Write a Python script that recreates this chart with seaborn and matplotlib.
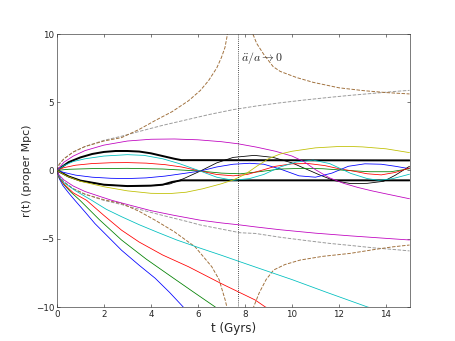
import numpy as np
import pandas as pd
import seaborn as sns
import matplotlib
matplotlib.use('Agg')
import matplotlib.pyplot as plt

# --- bound orbits (start at r=0, oscillate) ---
m_up_t = [0, 0.3, 0.7, 1.2, 2, 3, 4, 5, 6, 7, 7.7, 8.5, 9.3, 10, 10.5, 11, 11.6, 12.2, 12.8, 13.4, 14, 15]
m_up_r = [0, 0.6, 1.05, 1.45, 1.85, 2.15, 2.28, 2.3, 2.24, 2.1, 1.95, 1.7, 1.4, 1.05, 0.65, 0.05, -0.55, -0.95, -1.25, -1.5, -1.72, -2.08]

y_t = [0, 0.4, 1, 2, 3, 4, 4.8, 5.5, 6.2, 7, 7.5, 8, 8.5, 9, 9.5, 10, 11, 12, 12.5, 13, 14, 15]
y_r = [0, -0.4, -0.8, -1.2, -1.5, -1.68, -1.7, -1.6, -1.35, -0.98, -0.7, -0.3, 0.3, 0.85, 1.2, 1.4, 1.65, 1.75, 1.75, 1.72, 1.58, 1.3]

c_up_t = [0, 0.3, 0.7, 1.2, 2, 3, 3.7, 4.5, 5.2, 6.1, 6.8, 7.5, 8.2, 8.8, 9.5, 10.2, 10.9, 11.6, 12.5, 13.2, 13.7, 14.3, 15]
c_up_r = [0, 0.35, 0.65, 0.85, 1.05, 1.15, 1.1, 0.85, 0.5, -0.05, -0.5, -0.73, -0.6, -0.3, 0.25, 0.62, 0.75, 0.5, -0.22, -0.6, -0.73, -0.6, -0.28]

r_up_t = [0, 0.3, 0.8, 1.5, 2.3, 3, 3.8, 4.6, 5.3, 6.1, 6.8, 7.5, 8.1, 8.6, 9.3, 10, 10.7, 11.4, 12, 12.6, 13.2, 13.8, 14.4, 15]
r_up_r = [0, 0.2, 0.38, 0.5, 0.56, 0.57, 0.53, 0.42, 0.25, -0.05, -0.3, -0.4, -0.3, -0.05, 0.3, 0.48, 0.5, 0.35, 0.12, -0.05, -0.25, -0.33, -0.15, 0.18]

g_up_t = [0, 0.5, 1.5, 3, 4.5, 6.1, 7, 7.8, 8.6, 9.5, 10.5, 11.3, 12.3, 13.3, 14.2, 15]
g_up_r = [0, 0.08, 0.13, 0.15, 0.1, -0.05, -0.2, -0.25, -0.1, 0.1, 0.15, 0.12, 0.0, -0.1, -0.1, 0.12]

b_up_t = [0, 0.3, 0.8, 1.5, 2.3, 3, 3.8, 4.6, 5.3, 6.1, 6.8, 7.5, 8.2, 8.8, 9.5, 10.3, 11, 11.7, 12.4, 13.1, 13.8, 14.4, 15]
b_up_r = [0, -0.15, -0.35, -0.5, -0.58, -0.6, -0.55, -0.42, -0.25, -0.05, 0.25, 0.45, 0.52, 0.45, 0.1, -0.4, -0.5, -0.2, 0.3, 0.48, 0.45, 0.3, 0.12]

k_thin_t = [0, 0.5, 1, 2, 3, 4, 4.8, 5.4, 6.1, 6.8, 7.5, 8.4, 9.2, 10, 10.6, 11.2, 11.8, 12.5, 13.2, 13.9, 14.4, 15]
k_thin_r = [0, -0.45, -0.75, -1.05, -1.15, -1.12, -1.0, -0.6, -0.05, 0.55, 0.95, 1.1, 0.95, 0.55, 0.1, -0.35, -0.75, -0.97, -0.95, -0.8, -0.35, 0.3]

# --- virialised (thick black) ---
k_top_t = [0, 0.5, 1, 1.5, 2, 2.5, 3, 3.5, 4, 4.5, 5, 5.3, 15]
k_top_r = [0, 0.6, 0.95, 1.2, 1.35, 1.42, 1.42, 1.38, 1.25, 1.05, 0.85, 0.75, 0.73]
k_bot_t = [0, 0.5, 1, 2, 3, 4, 4.5, 4.9, 5.3, 15]
k_bot_r = [0, -0.45, -0.75, -1.05, -1.15, -1.12, -1.05, -0.85, -0.73, -0.73]

# --- unbound (fall away) ---
b_dn_t = [0, 0.1, 0.25, 0.5, 0.77, 1.2, 1.62, 2.2, 2.75, 3.5, 4.18, 4.8, 5.37, 5.5]
b_dn_r = [0, -0.6, -1.1, -1.65, -2.2, -3.05, -3.9, -4.9, -5.85, -6.95, -7.9, -8.95, -10, -10.25]
g_dn_t = [0, 0.1, 0.3, 0.6, 0.98, 1.8, 2.75, 3.8, 4.88, 5.8, 6.73, 6.9]
g_dn_r = [0, -0.55, -1.05, -1.6, -2.19, -3.6, -5.1, -6.5, -7.8, -8.9, -10, -10.2]
r_dn_t = [0, 0.1, 0.3, 0.7, 1.26, 2, 2.75, 3.5, 4.5, 5.6, 7, 8.44, 8.86, 9]
r_dn_r = [0, -0.5, -1.0, -1.65, -2.19, -3.3, -4.38, -5.25, -6.2, -7.06, -8.3, -9.5, -10, -10.1]
c_dn_t = [0, 0.1, 0.3, 0.8, 1.48, 2.1, 2.76, 3.5, 4.3, 5.1, 6.1, 7.0, 7.8, 8.44, 10, 11.5, 13.2, 13.4]
c_dn_r = [0, -0.45, -0.9, -1.5, -2.19, -2.85, -3.4, -3.98, -4.55, -5.1, -5.7, -6.22, -6.7, -7.08, -8.0, -8.95, -10, -10.1]
m_dn_t = [0, 0.1, 0.3, 0.7, 1.2, 1.9, 2.33, 3, 4, 5, 6.1, 7, 7.8, 8.44, 9.5, 11, 12.5, 14, 15]
m_dn_r = [0, -0.35, -0.7, -1.15, -1.55, -1.95, -2.19, -2.5, -2.95, -3.3, -3.65, -3.85, -4.0, -4.14, -4.35, -4.6, -4.8, -4.98, -5.1]

# --- dashed limiting curves ---
gray_up_t = [0, 0.1, 0.3, 0.7, 1.2, 2, 2.75, 3.5, 4.5, 5.5, 6.5, 7.5, 8.5, 9.5, 10.5, 11.6, 12.5, 13.5, 14.5, 15]
gray_up_r = [0, 0.45, 0.85, 1.35, 1.75, 2.2, 2.5, 2.85, 3.3, 3.7, 4.1, 4.45, 4.72, 4.95, 5.15, 5.35, 5.5, 5.65, 5.8, 5.86]
gray_dn_t = [0, 0.1, 0.3, 0.7, 1.2, 2, 2.75, 3.5, 4.5, 5.6, 6.1, 7, 7.8, 8.44, 9.5, 10.5, 11.6, 12.5, 13.5, 14.5, 15]
gray_dn_r = [0, -0.45, -0.85, -1.35, -1.75, -2.2, -2.5, -2.85, -3.3, -3.77, -4.0, -4.3, -4.57, -4.62, -4.9, -5.12, -5.35, -5.5, -5.68, -5.82, -5.9]

br_ul_t = [0, 0.1, 0.3, 0.7, 1.2, 2, 2.75, 3.5, 4.18, 4.9, 5.6, 6.1, 6.45, 6.8, 7.0, 7.15, 7.23, 7.3]
br_ul_r = [0, 0.45, 0.85, 1.35, 1.75, 2.15, 2.4, 3.0, 3.65, 4.3, 5.1, 5.85, 6.57, 7.5, 8.27, 9.0, 9.73, 10.5]
br_dl_t = [0, 0.1, 0.3, 0.7, 1.2, 2, 2.76, 3.5, 4.18, 5.0, 5.88, 6.59, 6.9, 7.16, 7.23, 7.3]
br_dl_r = [0, -0.45, -0.85, -1.35, -1.75, -2.15, -2.43, -3.0, -3.65, -4.5, -5.6, -7.06, -8.0, -9.5, -10, -10.5]
br_ur_t = [8.25, 8.37, 8.5, 8.8, 9.2, 9.5, 10.2, 10.9, 12, 13.05, 14, 15]
br_ur_r = [10.3, 9.85, 9.3, 8.5, 7.6, 7.25, 6.8, 6.45, 6.05, 5.84, 5.7, 5.6]
br_dr_t = [8.25, 8.37, 8.6, 8.9, 9.22, 9.7, 10.35, 11.3, 12.48, 13.5, 14.3, 15]
br_dr_r = [-10.5, -10, -9.0, -8.0, -7.3, -6.9, -6.57, -6.3, -6.08, -5.8, -5.6, -5.47]

t_flat = 7.71  # where a''/a -> 0

sns.set_style("white", {"xtick.direction": "in", "ytick.direction": "in",
                        "axes.edgecolor": "0.2"})
plt.rcParams['mathtext.fontset'] = 'cm'

fig, ax = plt.subplots(figsize=(8, 6), dpi=56.875)
fig.subplots_adjust(left=0.125, right=0.9, bottom=0.1, top=0.9)

B, G, R, C, M, Y = (0, 0, 1), (0, 0.5, 0), (1, 0, 0), (0, 0.75, 0.75), (0.75, 0, 0.75), (0.75, 0.75, 0)
BROWN = '#a0703c'
GRAY = '#9a9a9a'

curves = [
    (gray_up_t, gray_up_r, GRAY, 1.2, '--'),
    (gray_dn_t, gray_dn_r, GRAY, 1.2, '--'),
    (br_ul_t, br_ul_r, BROWN, 1.2, '--'),
    (br_dl_t, br_dl_r, BROWN, 1.2, '--'),
    (br_ur_t, br_ur_r, BROWN, 1.2, '--'),
    (br_dr_t, br_dr_r, BROWN, 1.2, '--'),
    (b_dn_t, b_dn_r, B, 1.0, '-'),
    (g_dn_t, g_dn_r, G, 1.0, '-'),
    (r_dn_t, r_dn_r, R, 1.0, '-'),
    (c_dn_t, c_dn_r, C, 1.0, '-'),
    (m_dn_t, m_dn_r, M, 1.0, '-'),
    (k_top_t, k_top_r, 'k', 2.5, '-'),
    (k_bot_t, k_bot_r, 'k', 2.5, '-'),
    (k_thin_t, k_thin_r, 'k', 1.0, '-'),
    (b_up_t, b_up_r, B, 1.0, '-'),
    (g_up_t, g_up_r, G, 1.0, '-'),
    (r_up_t, r_up_r, R, 1.0, '-'),
    (c_up_t, c_up_r, C, 1.0, '-'),
    (m_up_t, m_up_r, M, 1.0, '-'),
    (y_t, y_r, Y, 1.0, '-'),
]
for t, r, col, lw, ls in curves:
    sns.lineplot(x=t, y=r, color=col, lw=lw, linestyle=ls, ax=ax,
                 estimator=None, sort=False, legend=False)

ax.axvline(t_flat, color='k', ls=':', lw=1)
ax.text(7.85, 8.25, r'$\ddot{a}/a \rightarrow 0$', fontsize=15, va='center')

ax.set_xlim(0, 15)
ax.set_ylim(-10, 10)
ax.set_xticks(np.arange(0, 15, 2))
ax.set_yticks([-10, -5, 0, 5, 10])
ax.tick_params(bottom=True, left=True, top=True, right=True, length=4,
               width=0.8, labelsize=11, color='0.2')
ax.set_xlabel('t (Gyrs)', fontsize=15)
ax.set_ylabel('r(t) (proper Mpc)', fontsize=14)

plt.savefig('out.png', dpi=56.875)
plt.close()
